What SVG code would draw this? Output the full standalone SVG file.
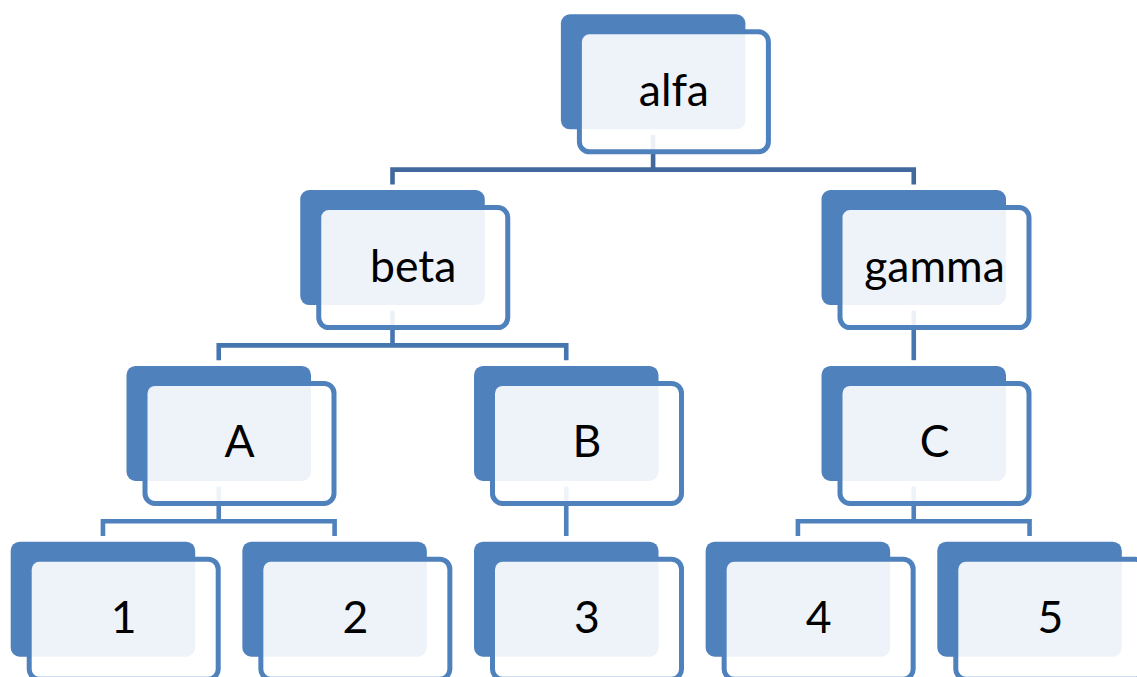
<svg xmlns="http://www.w3.org/2000/svg" width="1137" height="677" viewBox="0 0 1137 677">
<style>
.back{fill:#4F81BD}
.front{fill:#FFFFFF;fill-opacity:0.9;stroke:#4F81BD;stroke-width:5}
.lbl{font-family:Lato,"Liberation Sans",sans-serif;font-size:44.5px;fill:#000;text-anchor:middle}
.c0{fill:none;stroke:#42699E;stroke-width:4.6}
.c1{fill:none;stroke:#4676B0;stroke-width:4.6}
.c2{fill:none;stroke:#4F81BD;stroke-width:4.6}
</style>
<defs>
<g id="box">
<rect class="back" x="0" y="0" width="184.5" height="115" rx="9"/>
<rect class="front" x="18.5" y="17.5" width="189" height="120" rx="10"/>
</g>
</defs>
<g id="connectors">
<path class="c0" d="M392.5 184.4V169.6H913.75V184.4M653.1 135V169.6"/>
<path class="c1" d="M218.75 360.2V345.4H566.25V360.2M392.5 310.8V345.4"/>
<path class="c1" d="M913.75 310.8V360.2"/>
<path class="c2" d="M102.95 536V521.2H334.6V536M218.75 486.6V521.2"/>
<path class="c2" d="M566.25 486.6V536"/>
<path class="c2" d="M797.9 536V521.2H1029.55V536M913.75 486.6V521.2"/>
</g>
<g id="node-alfa" transform="translate(560.9 14.3)"><use href="#box"/><text class="lbl" x="113" y="91.6">alfa</text></g>
<g id="node-beta" transform="translate(300.25 190.1)"><use href="#box"/><text class="lbl" x="113" y="91.6">beta</text></g>
<g id="node-gamma" transform="translate(821.5 190.1)"><use href="#box"/><text class="lbl" x="113" y="91.6">gamma</text></g>
<g id="node-A" transform="translate(126.5 365.9)"><use href="#box"/><text class="lbl" x="113" y="91.6">A</text></g>
<g id="node-B" transform="translate(474 365.9)"><use href="#box"/><text class="lbl" x="113" y="91.6">B</text></g>
<g id="node-C" transform="translate(821.5 365.9)"><use href="#box"/><text class="lbl" x="113" y="91.6">C</text></g>
<g id="node-1" transform="translate(10.7 541.7)"><use href="#box"/><text class="lbl" x="113" y="91.6">1</text></g>
<g id="node-2" transform="translate(242.35 541.7)"><use href="#box"/><text class="lbl" x="113" y="91.6">2</text></g>
<g id="node-3" transform="translate(474 541.7)"><use href="#box"/><text class="lbl" x="113" y="91.6">3</text></g>
<g id="node-4" transform="translate(705.65 541.7)"><use href="#box"/><text class="lbl" x="113" y="91.6">4</text></g>
<g id="node-5" transform="translate(937.3 541.7)"><use href="#box"/><text class="lbl" x="113" y="91.6">5</text></g>
</svg>
